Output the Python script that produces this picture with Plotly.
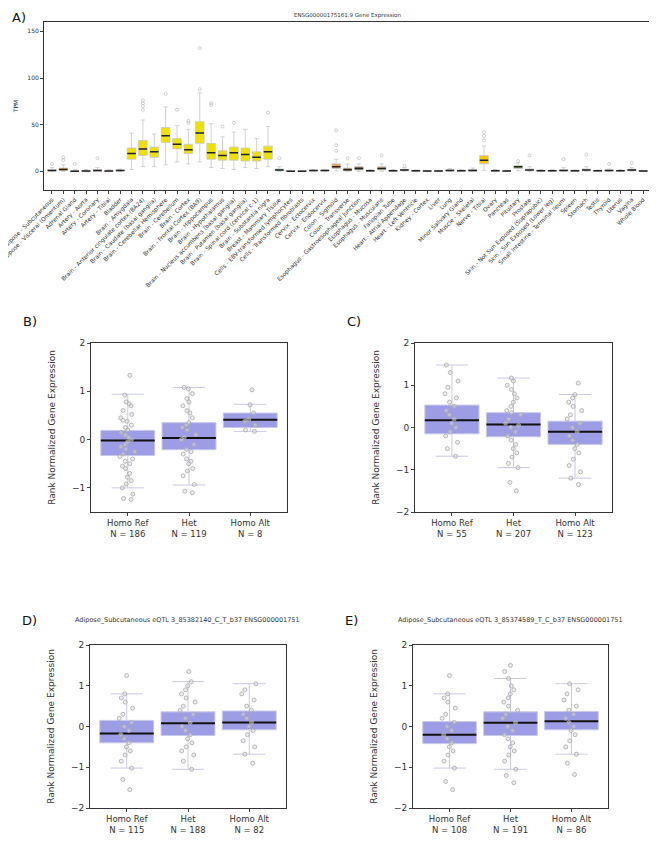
import plotly.graph_objects as go

W, H = 649, 835   # figure size; page body adds an 8px margin
OFF = 8

tissues = ["Adipose - Subcutaneous","Adipose - Visceral (Omentum)","Adrenal Gland","Artery - Aorta","Artery - Coronary","Artery - Tibial","Bladder","Brain - Amygdala","Brain - Anterior cingulate cortex (BA24)","Brain - Caudate (basal ganglia)","Brain - Cerebellar Hemisphere","Brain - Cerebellum","Brain - Cortex","Brain - Frontal Cortex (BA9)","Brain - Hippocampus","Brain - Hypothalamus","Brain - Nucleus accumbens (basal ganglia)","Brain - Putamen (basal ganglia)","Brain - Spinal cord (cervical c-1)","Brain - Substantia nigra","Breast - Mammary Tissue","Cells - EBV-transformed lymphocytes","Cells - Transformed fibroblasts","Cervix - Ectocervix","Cervix - Endocervix","Colon - Sigmoid","Colon - Transverse","Esophagus - Gastroesophageal Junction","Esophagus - Mucosa","Esophagus - Muscularis","Fallopian Tube","Heart - Atrial Appendage","Heart - Left Ventricle","Kidney - Cortex","Liver","Lung","Minor Salivary Gland","Muscle - Skeletal","Nerve - Tibial","Ovary","Pancreas","Pituitary","Prostate","Skin - Not Sun Exposed (Suprapubic)","Skin - Sun Exposed (Lower leg)","Small Intestine - Terminal Ileum","Spleen","Stomach","Testis","Thyroid","Uterus","Vagina","Whole Blood"]
colors = ["#FFA54F","#EE9A00","#8FBC8F","#8B1C62","#EE6A50","#FF0000","#CDB79E"] + ["#EEE000"]*13 + ["#33CCCC","#CC66FF","#AAEEFF","#CCADD8","#CCADD8","#E0A050","#8B6F47","#8B7355","#8B7355","#CDAA7D","#FFCCCC","#B452CD","#7A378B","#CDB79E","#CDB79E","#9ACD32","#CDB79E","#7A67EE","#F5C800","#FFB6C1","#CD9B1D","#7FB24A","#D9D9D9","#3A5FCD","#1E90FF","#CDB79E","#CDB79E","#FFD39B","#A6A6A6","#008B45","#EED5D2","#B0506A","#FF00BB"]
q1  = [0.3,1,0,0,0.2,0,0.5,13,17,15,31,24,19,30,13,12,12,11,11,13,0.7,0,0,0.3,0.3,3,0.5,1.5,0,1.5,0.2,0.6,0.2,0.2,0.1,0.4,0.3,0.3,8,0.3,0.1,3,0.8,0.3,0.3,0.4,0.2,0.6,0.2,0.3,0.2,0.7,0.1]
med = [1,2,0.2,0.3,0.8,0.3,1,19,24,21,38,29,23,41,20,17,20,18,15,21,1.5,0.2,0.2,0.8,0.8,5,1.8,3,0.5,3,0.6,1.5,0.5,0.4,0.3,1,0.7,1,12,0.7,0.3,5,1.5,0.7,0.6,1,0.5,1.5,0.5,0.8,0.5,1.5,0.3]
q3  = [1.8,3.5,0.6,0.8,1.6,0.8,1.5,25,33,26,47,35,29,53,30,22,26,25,21,27,2.5,0.5,0.5,1.2,1.3,8,3.5,5,1,5,1,2.2,0.8,0.6,0.5,1.6,1.2,1.8,17,1.2,0.5,6,2.5,1.2,1.1,1.7,0.8,2.5,0.8,1.3,0.9,2.2,0.5]
lo  = [0,0,0,0,0,0,0,2,5,5,7,10,8,10,4,3,2,4,3,5,0,0,0,0,0,0.5,0,0,0,0,0,0,0,0,0,0,0,0,1,0,0,0.5,0,0,0,0,0,0,0,0,0,0,0]
hi  = [4,7,2,2,4,2,2.5,41,55,40,69,49,45,84,51,37,42,45,35,48,5,1,1,2,2,13,8,8,2,8,2,4,1.5,1,1,3,2,3.5,27,2,1,9,5,2,2,4,1.5,5,1.5,2.5,2,4,1]
out_idx = [14,14,9,9,9,9,11,12,13,13,15,15,16,17,20,26,26,26,39,39,39,2,2,5,1,3,43,48,46,52,50,21,27,28,30,32,42]
out_val = [132,88,76,73,70,66,83,66,54,52,71,73,48,52,63,44,28,22,42,38,33,15,12,14,8,8,17,18,13,9,8,14,14,14,17,6,11]

groups = ["Homo Ref","Het","Homo Alt"]
panels = {
 "B": dict(n=[186,119,8], q1=[-0.33,-0.21,0.25], med=[-0.02,0.03,0.41], q3=[0.19,0.35,0.55], lo=[-1.0,-0.94,0.17], hi=[0.94,1.08,0.73],
  pts=[[1.33,0.92,0.78,0.74,0.7,0.6,0.52,0.45,0.4,0.38,0.3,0.25,0.2,0.15,0.1,0.05,0,-0.05,-0.1,-0.15,-0.2,-0.25,-0.3,-0.35,-0.4,-0.45,-0.5,-0.55,-0.6,-0.7,-0.78,-0.85,-0.92,-1.0,-1.13,-1.22,-1.24],
       [1.08,1.05,0.95,0.85,0.78,0.7,0.6,0.55,0.45,0.35,0.3,0.25,0.2,0.1,0.05,0,-0.1,-0.2,-0.25,-0.3,-0.4,-0.45,-0.5,-0.6,-0.65,-0.75,-0.93,-1.07,-1.1],
       [1.03,0.72,0.55,0.42,0.38,0.3,0.2,0.17]], rng=[-1.5,2], ticks=[-1,0,1,2]),
 "C": dict(n=[55,207,123], q1=[-0.15,-0.22,-0.4], med=[0.17,0.07,-0.1], q3=[0.53,0.35,0.15], lo=[-0.68,-0.95,-1.2], hi=[1.48,1.17,0.78],
  pts=[[1.48,1.3,1.1,0.95,0.8,0.7,0.6,0.5,0.4,0.3,0.2,0.1,0,-0.1,-0.2,-0.35,-0.5,-0.68],
       [1.17,1.1,1.0,0.9,0.8,0.7,0.6,0.5,0.4,0.35,0.3,0.2,0.1,0.05,0,-0.1,-0.2,-0.3,-0.4,-0.5,-0.6,-0.7,-0.85,-0.95,-1.3,-1.5],
       [1.05,0.78,0.7,0.6,0.5,0.4,0.3,0.2,0.1,0,-0.1,-0.2,-0.3,-0.4,-0.5,-0.6,-0.75,-0.9,-1.05,-1.2,-1.35]], rng=[-2,2], ticks=[-2,-1,0,1,2]),
 "D": dict(n=[115,188,82], q1=[-0.4,-0.22,-0.08], med=[-0.17,0.08,0.1], q3=[0.15,0.36,0.38], lo=[-1.02,-1.05,-0.68], hi=[0.8,1.1,1.05],
  pts=[[1.25,0.8,0.7,0.6,0.45,0.3,0.2,0.1,0,-0.1,-0.2,-0.3,-0.4,-0.5,-0.6,-0.7,-0.85,-1.02,-1.3,-1.55],
       [1.35,1.1,1.0,0.9,0.8,0.7,0.6,0.5,0.4,0.3,0.2,0.1,0,-0.1,-0.2,-0.3,-0.4,-0.5,-0.6,-0.7,-0.85,-1.05],
       [1.05,0.9,0.8,0.65,0.5,0.4,0.3,0.2,0.1,0,-0.1,-0.2,-0.35,-0.5,-0.68,-0.9]], rng=[-2,2], ticks=[-2,-1,0,1,2]),
 "E": dict(n=[108,191,86], q1=[-0.42,-0.22,-0.08], med=[-0.2,0.09,0.13], q3=[0.12,0.36,0.37], lo=[-1.02,-1.05,-0.68], hi=[0.8,1.18,1.05],
  pts=[[1.25,0.8,0.7,0.6,0.45,0.3,0.2,0.1,0,-0.1,-0.2,-0.3,-0.4,-0.5,-0.6,-0.7,-0.85,-1.02,-1.35,-1.55],
       [1.5,1.35,1.18,1.0,0.9,0.8,0.7,0.6,0.5,0.4,0.3,0.2,0.1,0,-0.1,-0.2,-0.3,-0.4,-0.5,-0.6,-0.7,-0.85,-1.05,-1.2,-1.38],
       [1.05,0.9,0.8,0.65,0.5,0.4,0.3,0.2,0.1,0,-0.1,-0.2,-0.35,-0.5,-0.68,-0.9,-1.18]], rng=[-2,2], ticks=[-2,-1,0,1,2]),
}
titles = {"D": "Adipose_Subcutaneous eQTL 3_85382140_C_T_b37 ENSG000001751",
          "E": "Adipose_Subcutaneous eQTL 3_85374589_T_C_b37 ENSG000001751"}

def px(a): return (a - OFF) / W
def py(b): return 1 - (b - OFF) / H
def dx(a, b): return [max(0, px(a)), min(1, px(b))]
def dy(top, bot): return [max(0, py(bot)), min(1, py(top))]

fig = go.Figure()
for i, t in enumerate(tissues):
    fig.add_trace(go.Box(x=[t], q1=[q1[i]], median=[med[i]], q3=[q3[i]], lowerfence=[lo[i]], upperfence=[hi[i]],
                         fillcolor=colors[i], line=dict(color="#c8c8c8", width=0.8), whiskerwidth=0.5, width=0.75,
                         boxpoints=False, showlegend=False, xaxis="x", yaxis="y"))
fig.add_trace(go.Box(x=tissues, q1=med, median=med, q3=med, lowerfence=med, upperfence=med, width=0.75,
                     fillcolor="rgba(0,0,0,0)", line=dict(color="#222", width=1.5), boxpoints=False,
                     showlegend=False, xaxis="x", yaxis="y"))
fig.add_trace(go.Scatter(x=[tissues[k - 1] for k in out_idx], y=out_val, mode="markers",
                         marker=dict(size=3, color="rgba(0,0,0,0)", line=dict(color="#bbb", width=0.7)),
                         showlegend=False, xaxis="x", yaxis="y"))

layout = dict(width=W, height=H, margin=dict(l=0, r=0, t=0, b=0), plot_bgcolor="white", paper_bgcolor="white",
              font=dict(family="DejaVu Sans", color="#333"), boxmode="overlay")
layout["xaxis"] = dict(domain=dx(44, 650), anchor="y", tickangle=-45, tickfont=dict(size=5.8), showline=True, automargin=False,
                       range=[-0.7, 52.6], linecolor="#333", mirror=True, ticks="outside", ticklen=3,
                       categoryorder="array", categoryarray=tissues)
layout["yaxis"] = dict(domain=dy(22, 190), anchor="x", range=[-20, 160], tickvals=[0, 50, 100, 150], tickfont=dict(size=6),
                       showline=True, linecolor="#333", mirror=True, ticks="outside", ticklen=3, showgrid=False, zeroline=False,
                       automargin=False, title=dict(text="TPM", font=dict(size=6), standoff=8))
pos = {"B": (91, 287, 343, 512, 2, 21), "C": (415, 612, 343, 512, 3, 21),
       "D": (90, 286, 645, 808, 4, 15), "E": (413, 608, 645, 808, 5, 15)}
ann = [dict(text="A)", x=px(10), y=1, xref="paper", yref="paper", showarrow=False, xanchor="left", yanchor="top",
            font=dict(size=13, color="#111")),
       dict(text="ENSG00000175161.9 Gene Expression", x=px(347), y=py(10), xref="paper", yref="paper", showarrow=False,
            xanchor="center", font=dict(size=5.5))]
for key, (x0, x1, y0, y1, k, lab) in pos.items():
    p = panels[key]
    xa, ya = f"x{k}", f"y{k}"
    cats = [f"{g}<br>N = {n}" for g, n in zip(groups, p["n"])]
    fig.add_trace(go.Box(x=cats, q1=p["q1"], median=p["med"], q3=p["q3"], lowerfence=p["lo"], upperfence=p["hi"], width=0.88,
                         fillcolor="rgba(140,140,225,0.85)", line=dict(color="#c8c8e8", width=1), whiskerwidth=0.6, boxpoints=False,
                         showlegend=False, xaxis=xa, yaxis=ya))
    fig.add_trace(go.Box(x=cats, q1=p["med"], median=p["med"], q3=p["med"], lowerfence=p["med"], upperfence=p["med"], width=0.88,
                         fillcolor="rgba(0,0,0,0)", line=dict(color="#111", width=2), boxpoints=False,
                         showlegend=False, xaxis=xa, yaxis=ya))
    for g, c, vals in zip(groups, cats, p["pts"]):
        fig.add_trace(go.Box(x=[c] * len(vals), y=vals, boxpoints="all", jitter=0.3, pointpos=0, width=0.88,
                             fillcolor="rgba(0,0,0,0)", line=dict(color="rgba(0,0,0,0)", width=0),
                             marker=dict(size=4, color="rgba(220,220,220,0.5)", line=dict(color="#aaa", width=0.8)),
                             hoveron="points", showlegend=False, xaxis=xa, yaxis=ya))
    layout[f"xaxis{k}"] = dict(domain=dx(x0, x1), anchor=ya, showline=True, linecolor="#333", mirror=True, ticks="outside",
                               automargin=False, ticklen=3, tickfont=dict(size=8.5), categoryorder="array", categoryarray=cats)
    layout[f"yaxis{k}"] = dict(domain=dy(y0, y1), anchor=xa, range=p["rng"], tickvals=p["ticks"], showline=True, linecolor="#333",
                               mirror=True, ticks="outside", ticklen=3, tickfont=dict(size=9), showgrid=False, zeroline=False,
                               automargin=False, title=dict(text="Rank Normalized Gene Expression", font=dict(size=9), standoff=14))
    ann.append(dict(text=f"{key})", x=px(x0 - 70), y=py(y0 - lab), xref="paper", yref="paper", showarrow=False,
                    xanchor="left", font=dict(size=13, color="#111")))
    if key in titles:
        ann.append(dict(text=titles[key], x=px((x0 + x1) / 2), y=py(y0 - 19), xref="paper", yref="paper", showarrow=False,
                        xanchor="center", font=dict(size=6.5)))
layout["annotations"] = ann
fig.update_layout(**layout)
fig.write_html("out.html")
